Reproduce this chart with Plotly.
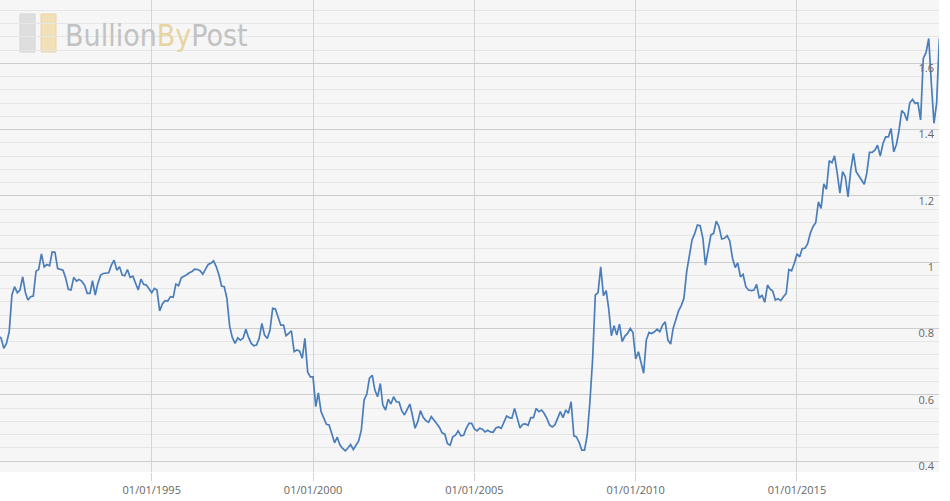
import pandas as pd
import plotly.graph_objects as go

# Monthly ratio values (Apr 1990 - Jun 2019)
ratio_1990s = [
    0.777, 0.771, 0.740, 0.755, 0.790, 0.901, 0.926, 0.908, 0.916,
    0.956, 0.908, 0.886, 0.896, 0.898, 0.973, 0.978, 1.025, 0.986, 0.993, 0.989, 1.031,
    1.030, 0.981, 0.979, 0.976, 0.952, 0.918, 0.916, 0.954, 0.943, 0.948, 0.942, 0.931,
    0.906, 0.906, 0.944, 0.901, 0.936, 0.961, 0.966, 0.967, 0.968, 0.991, 1.006, 0.976,
    0.986, 0.961, 0.959, 0.978, 0.954, 0.958, 0.938, 0.916, 0.949, 0.933, 0.931, 0.918,
    0.908, 0.921, 0.916, 0.853, 0.874, 0.884, 0.883, 0.896, 0.894, 0.934, 0.929, 0.953,
    0.957, 0.962, 0.968, 0.972, 0.979, 0.978, 0.974, 0.964, 0.979, 0.993, 0.997, 1.004,
    0.986, 0.961, 0.928, 0.926, 0.891, 0.807, 0.773, 0.755, 0.772, 0.765, 0.771, 0.798,
    0.773, 0.755, 0.748, 0.750, 0.770, 0.815, 0.780, 0.770, 0.795, 0.861, 0.859, 0.832,
    0.810, 0.810, 0.778, 0.785, 0.793, 0.730, 0.735, 0.732, 0.710, 0.770, 0.669, 0.654,
]
ratio_2000s = [
    0.654, 0.564, 0.606, 0.549, 0.529, 0.511, 0.509, 0.478, 0.455, 0.472, 0.448, 0.438,
    0.431, 0.440, 0.450, 0.435, 0.448, 0.461, 0.494, 0.584, 0.602, 0.650, 0.659, 0.614,
    0.594, 0.634, 0.569, 0.554, 0.587, 0.572, 0.594, 0.579, 0.578, 0.552, 0.539, 0.554,
    0.572, 0.536, 0.499, 0.519, 0.552, 0.532, 0.522, 0.517, 0.534, 0.524, 0.514, 0.502,
    0.485, 0.481, 0.453, 0.448, 0.473, 0.478, 0.491, 0.476, 0.478, 0.499, 0.514, 0.514,
    0.497, 0.491, 0.499, 0.496, 0.488, 0.493, 0.488, 0.487, 0.500, 0.503, 0.499, 0.519,
    0.536, 0.531, 0.529, 0.559, 0.531, 0.500, 0.511, 0.512, 0.508, 0.531, 0.531, 0.559,
    0.549, 0.554, 0.544, 0.529, 0.509, 0.503, 0.509, 0.527, 0.549, 0.531, 0.554, 0.544,
    0.579, 0.476, 0.473, 0.456, 0.433, 0.433, 0.478, 0.579, 0.710, 0.901, 0.908, 0.986,
    0.899, 0.914, 0.861, 0.778, 0.808, 0.780, 0.813, 0.760, 0.777, 0.785, 0.800, 0.788,
]
ratio_2010s = [
    0.708, 0.730, 0.700, 0.665, 0.765, 0.788, 0.785, 0.790, 0.798, 0.790, 0.810, 0.820,
    0.765, 0.753, 0.800, 0.825, 0.853, 0.869, 0.891, 0.971, 1.022, 1.067, 1.087, 1.112,
    1.110, 1.072, 0.991, 1.037, 1.082, 1.087, 1.124, 1.107, 1.070, 1.072, 1.080, 1.064,
    1.012, 0.984, 0.998, 0.956, 0.963, 0.926, 0.916, 0.914, 0.916, 0.933, 0.891, 0.901,
    0.879, 0.931, 0.919, 0.913, 0.886, 0.890, 0.884, 0.896, 0.906, 0.978, 0.974, 0.996,
    1.025, 1.016, 1.041, 1.042, 1.055, 1.087, 1.107, 1.119, 1.182, 1.162, 1.236, 1.220,
    1.306, 1.300, 1.321, 1.268, 1.208, 1.273, 1.258, 1.197, 1.278, 1.328, 1.273, 1.261,
    1.248, 1.235, 1.268, 1.331, 1.331, 1.338, 1.353, 1.320, 1.358, 1.378, 1.378, 1.403,
    1.333, 1.356, 1.397, 1.457, 1.449, 1.427, 1.481, 1.491, 1.479, 1.481, 1.429, 1.615,
    1.632, 1.675, 1.545, 1.419, 1.480, 1.675,
]
start_month = "1990-04-01"
x_range = ["1990-04-19", "2019-05-28"]
y_range = [0.367, 1.791]
y_tick_step = 0.2
y_minor_step = 0.04

values = ratio_1990s + ratio_2000s + ratio_2010s
dates = pd.date_range(start_month, periods=len(values), freq="MS")

fig = go.Figure()
fig.add_trace(go.Scatter(
    x=dates, y=values, mode="lines",
    line=dict(color="#4a7ebb", width=1.7),
    hoverinfo="skip", showlegend=False,
))

font_family = "Open Sans, Noto Sans, sans-serif"
fig.update_layout(
    width=950, height=501,
    margin=dict(l=0, r=11, t=0, b=29),
    paper_bgcolor="#ffffff",
    plot_bgcolor="#f6f6f6",
    font=dict(family=font_family, size=11, color="#666666"),
    xaxis=dict(
        type="date", range=x_range,
        tick0="1995-01-01", dtick="M60", tickformat="%d/%m/%Y",
        showgrid=True, gridcolor="#d4d4d4", gridwidth=1,
        ticks="outside", ticklen=8, tickcolor="#d4d4d4",
        showline=False, zeroline=False,
        tickfont=dict(size=11, color="#666666"),
    ),
    yaxis=dict(
        range=y_range, side="right",
        tick0=0.4, dtick=y_tick_step,
        ticklabelposition="inside", ticklabelshift=5, ticklabelstandoff=2,
        ticklabeloverflow="allow",
        showgrid=True, gridcolor="#cdcdcd", gridwidth=1,
        showline=False, zeroline=False, ticks="",
        tickfont=dict(size=11, color="#666666"),
        minor=dict(dtick=y_minor_step, tick0=0.4, showgrid=True,
                   gridcolor="#e6e6e6", gridwidth=1),
    ),
)

# BullionByPost watermark
fig.add_shape(type="rect", xref="paper", yref="paper",
              x0=20/939, x1=35/939, y0=1-52/472, y1=1-14/472,
              fillcolor="#dedede", line=dict(color="#d4d4d4", width=1), layer="below")
fig.add_shape(type="rect", xref="paper", yref="paper",
              x0=41/939, x1=56/939, y0=1-52/472, y1=1-14/472,
              fillcolor="#f1e0b8", line=dict(color="#ead5a2", width=1), layer="below")
fig.add_annotation(
    xref="paper", yref="paper", x=63/939, y=1-35/472,
    xanchor="left", yanchor="middle", showarrow=False,
    text="<span style='color:#c2c2c2'>Bullion</span><span style='color:#e8d4a0'>By</span><span style='color:#c2c2c2'>Post</span>",
    font=dict(family="Liberation Sans Narrow, DejaVu Sans Condensed, sans-serif", size=30),
)

fig.write_html("out.html", config={"displayModeBar": False},
               post_script="document.body.style.margin='0px';")
